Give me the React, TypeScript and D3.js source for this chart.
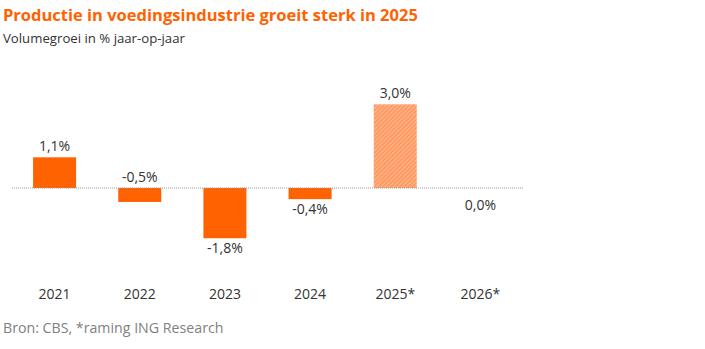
import React from "react";
import * as d3 from "d3";

const categories = ["2021", "2022", "2023", "2024", "2025*", "2026*"];
const values = [1.1, -0.5, -1.8, -0.4, 3.0, 0.0];
const labels = ["1,1%", "-0,5%", "-1,8%", "-0,4%", "3,0%", "0,0%"];
const forecast = [false, false, false, false, true, true];
const labelAbove = [true, true, false, false, true, false];

const title = "Productie in voedingsindustrie groeit sterk in 2025";
const subtitle = "Volumegroei in % jaar-op-jaar";
const source = "Bron: CBS, *raming ING Research";

const W = 705;
const H = 349;
const FONT = "'Open Sans', 'Noto Sans', sans-serif";

export default function App() {
  const x = d3.scaleBand<string>().domain(categories).range([12, 523]).paddingInner(0.495).paddingOuter(0.2475);
  const y = d3.scaleLinear().domain([0, 3]).range([188, 104.3]);
  const y0 = y(0);

  return (
    <svg width={W} height={H} style={{ position: "absolute", left: 0, top: 0, background: "#fff" }}>
      <defs>
        <pattern id="hatch" patternUnits="userSpaceOnUse" width="3" height="3" patternTransform="rotate(45)">
          <rect width="3" height="3" fill="#FFB3A8" />
          <rect width="1.5" height="3" fill="#FF953A" />
        </pattern>
      </defs>
      <text x={3} y={21} fill="#FF6200" fontFamily={FONT} fontWeight={700} fontSize={16.5}>
        {title}
      </text>
      <text x={3} y={43} fill="#333" fontFamily={FONT} fontSize={13.2}>
        {subtitle}
      </text>
      {values.map((v, i) => {
        const c = categories[i];
        const bx = x(c) as number;
        const bw = x.bandwidth();
        const top = Math.min(y(v), y0);
        const h = Math.abs(y(v) - y0);
        const cx = bx + bw / 2;
        let ly: number;
        if (labelAbove[i]) ly = Math.min(y(v), y0) - 6;
        else ly = Math.max(y(v), y0) + 15;
        if (v === 0) ly = y0 + 22;
        return (
          <g key={c}>
            {h > 0 && (
              <rect x={bx} y={top} width={bw} height={h} fill={forecast[i] ? "url(#hatch)" : "#FF6200"} />
            )}
            <text x={cx} y={ly} textAnchor="middle" fill="#333" fontFamily={FONT} fontSize={14}>
              {labels[i]}
            </text>
            <text x={cx} y={299} textAnchor="middle" fill="#333" fontFamily={FONT} fontSize={14}>
              {c}
            </text>
          </g>
        );
      })}
      <line x1={12} x2={523} y1={y0} y2={y0} stroke="#999" strokeWidth={1} strokeDasharray="1,1" />
      <text x={3} y={333} fill="#808080" fontFamily={FONT} fontSize={14.2}>
        {source}
      </text>
    </svg>
  );
}
